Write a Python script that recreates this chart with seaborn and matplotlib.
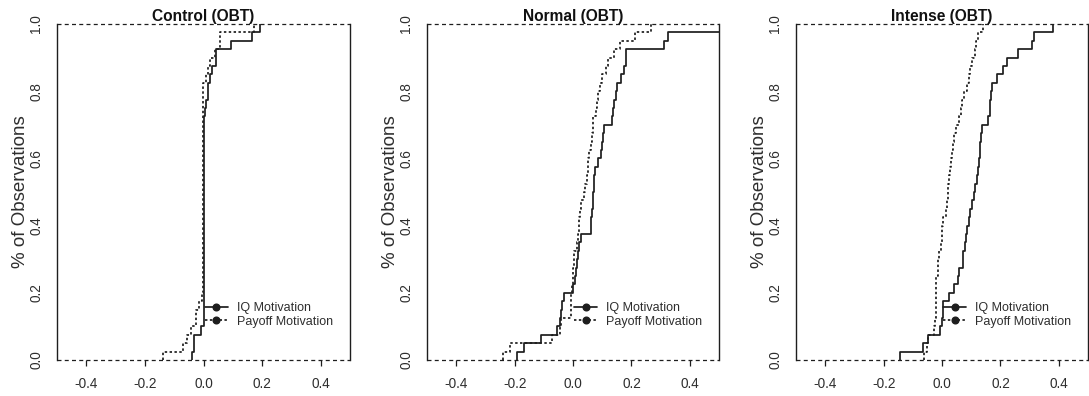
import matplotlib
matplotlib.use("Agg")
import matplotlib.pyplot as plt
import pandas as pd
import seaborn as sns
from matplotlib.lines import Line2D

# ---------------- data ----------------
panel_titles = ["Control (OBT)", "Normal (OBT)", "Intense (OBT)"]
series_labels = ["IQ Motivation", "Payoff Motivation"]
x_ticks = [-0.4, -0.2, 0.0, 0.2, 0.4]
y_ticks = [0.0, 0.2, 0.4, 0.6, 0.8, 1.0]
y_tick_labels = ["0.0", "0.2", "0.4", "0.6", "0.8", "1.0"]
x_tick_labels = ["-0.4", "-0.2", "0.0", "0.2", "0.4"]
y_label = "% of Observations"

control_iq = [-0.039, -0.033, -0.033, -0.008,
              0.0, 0.0, 0.0, 0.0, 0.0, 0.0, 0.0, 0.0, 0.0, 0.0,
              0.0, 0.0, 0.0, 0.0, 0.0, 0.0, 0.0, 0.0, 0.0, 0.0,
              0.0, 0.0, 0.0, 0.0, 0.0,
              0.006, 0.009, 0.014, 0.014, 0.023, 0.030, 0.043, 0.043,
              0.095, 0.165, 0.194]
control_payoff = [-0.137, -0.071, -0.056, -0.042, -0.025, -0.025, -0.014, -0.005,
                  -0.002, -0.002, -0.002, -0.002, -0.002, -0.002, -0.002, -0.002,
                  -0.002, -0.002, -0.002, -0.002, -0.002, -0.002, -0.002, -0.002,
                  -0.002, -0.002, -0.002, -0.002, -0.002, -0.002, -0.002, -0.002,
                  -0.002,
                  0.008, 0.015, 0.023, 0.040, 0.058, 0.058, 0.174]

normal_iq = [-0.192, -0.167, -0.109, -0.055, -0.043, -0.042, -0.036, -0.031,
             0.000, 0.006, 0.009, 0.012, 0.017, 0.022, 0.026, 0.060,
             0.063, 0.065, 0.067, 0.069, 0.071, 0.073, 0.075, 0.085,
             0.095, 0.100, 0.103, 0.106, 0.134, 0.138, 0.141, 0.148,
             0.150, 0.163, 0.174, 0.180, 0.183, 0.311, 0.326, 0.600]
normal_payoff = [-0.241, -0.215, -0.071, -0.043, -0.042, -0.008, -0.007, -0.006,
                 -0.002, -0.001, 0.000, 0.003, 0.004, 0.015, 0.018, 0.020,
                 0.022, 0.024, 0.026, 0.036, 0.040, 0.047, 0.050, 0.053,
                 0.056, 0.060, 0.064, 0.067, 0.070, 0.078, 0.082, 0.086,
                 0.092, 0.098, 0.112, 0.120, 0.140, 0.160, 0.212, 0.266]

intense_iq = [-0.143, -0.066, -0.049, -0.006, 0.000, 0.002, 0.005, 0.025,
              0.040, 0.055, 0.057, 0.071, 0.073, 0.080, 0.082, 0.085,
              0.093, 0.095, 0.104, 0.109, 0.112, 0.120, 0.123, 0.126,
              0.129, 0.131, 0.135, 0.137, 0.157, 0.163, 0.166, 0.168,
              0.171, 0.189, 0.209, 0.222, 0.260, 0.308, 0.315, 0.380]
intense_payoff = [-0.062, -0.050, -0.048, -0.027, -0.025, -0.022, -0.021, -0.021,
                  -0.020, -0.020, -0.013, -0.012, -0.011, -0.002, -0.001, 0.000,
                  0.002, 0.015, 0.017, 0.019, 0.021, 0.024, 0.028, 0.031,
                  0.034, 0.037, 0.042, 0.048, 0.058, 0.066, 0.070, 0.074,
                  0.086, 0.092, 0.097, 0.104, 0.112, 0.116, 0.122, 0.139]

panel_data = [(control_iq, control_payoff),
              (normal_iq, normal_payoff),
              (intense_iq, intense_payoff)]

# ---------------- style ----------------
sns.set_style("white")
plt.rcParams["font.family"] = ["Liberation Sans", "DejaVu Sans"]

ink = "#1e1e1e"
txt = "#2e2e2e"
solid_style = "-"
dotted_style = (0, (1.4, 1.4))
dashed_style = (0, (3.2, 2.6))
lw = 1.25

W, H = 1089, 396
fig = plt.figure(figsize=(W / 100, H / 100), dpi=100)
lefts = [57, 427, 796]
widths = [293, 292, 292]
top_px, bottom_px = 24, 360

for i in range(3):
    ax = fig.add_axes([lefts[i] / W, (H - bottom_px) / H,
                       widths[i] / W, (bottom_px - top_px) / H])
    iq, pay = panel_data[i]
    df = pd.DataFrame({
        "value": list(iq) + list(pay),
        "series": [series_labels[0]] * len(iq) + [series_labels[1]] * len(pay),
    })
    sns.ecdfplot(data=df[df["series"] == series_labels[0]], x="value", ax=ax,
                 color=ink, linewidth=lw, linestyle=solid_style)
    sns.ecdfplot(data=df[df["series"] == series_labels[1]], x="value", ax=ax,
                 color=ink, linewidth=lw, linestyle=dotted_style)

    ax.axhline(0, color=ink, linewidth=0.9, linestyle=dashed_style, clip_on=False)
    ax.axhline(1, color=ink, linewidth=0.9, linestyle=dashed_style, clip_on=False)

    ax.set_xlim(-0.5, 0.5)
    ax.set_ylim(0, 1)
    ax.set_xticks(x_ticks)
    ax.set_xticklabels(x_tick_labels)
    ax.set_yticks(y_ticks)
    ax.set_yticklabels(y_tick_labels, rotation=90, va="center")
    ax.set_xlabel("")

    for side in ["top", "bottom"]:
        ax.spines[side].set_visible(False)
    for side in ["left", "right"]:
        ax.spines[side].set_visible(True)
        ax.spines[side].set_color(ink)
        ax.spines[side].set_linewidth(1.0)

    ax.tick_params(axis="x", bottom=True, length=4.3, width=0.9, direction="out",
                   color=ink, pad=8, labelsize=9.8, labelcolor=txt)
    ax.tick_params(axis="y", left=True, length=0, pad=10,
                   labelsize=9.8, labelcolor=txt)

    ax.set_ylabel(y_label, fontsize=13.5, color=txt)
    ax.yaxis.set_label_coords(-0.097, 0.5)
    ax.set_title(panel_titles[i], fontsize=11.2, fontweight="bold", color="#111111", pad=2.5)

    handles = [Line2D([], [], color=ink, linewidth=lw, linestyle=solid_style,
                      marker="o", markersize=4.8),
               Line2D([], [], color=ink, linewidth=lw, linestyle=dotted_style,
                      marker="o", markersize=4.8)]
    ax.legend(handles, series_labels, loc="center left",
              bbox_to_anchor=(0.005, 0.134), bbox_transform=ax.transData,
              frameon=False, fontsize=9, handlelength=1.84, handletextpad=0.72,
              labelspacing=0.1, borderpad=0, borderaxespad=0, numpoints=1,
              labelcolor=txt)

fig.savefig("out.png", dpi=100)
